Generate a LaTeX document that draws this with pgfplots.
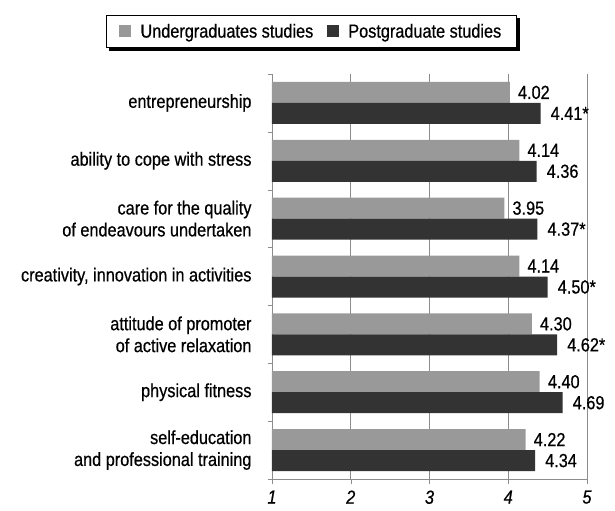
\documentclass[border=0pt]{standalone}
\usepackage{fontspec}
\setmainfont[FakeStretch=0.86, FakeBold=0.6]{Liberation Sans}
\usepackage{pgfplots}
\pgfplotsset{compat=1.18}
\usetikzlibrary{backgrounds}

\definecolor{undergrad}{HTML}{999999}
\definecolor{postgrad}{HTML}{333333}
\definecolor{gridgray}{HTML}{8C8C8C}

\begin{document}
\begin{tikzpicture}
\begin{axis}[
    scale only axis,
    width=315bp,
    height=405bp,
    xbar,
    bar width=21bp,
    xmin=1, xmax=5,
    ymin=-0.5, ymax=6.5,
    xtick={1,2,3,4,5},
    xticklabel style={font=\fontsize{19}{21}\selectfont\itshape, yshift=-3bp},
    /pgf/number format/assume math mode=true,
    ytick={0,1,2,3,4,5,6},
    yticklabels={
        {self-education\\and professional training},
        {physical fitness},
        {attitude of promoter\\of active relaxation},
        {creativity, innovation in activities},
        {care for the quality\\of endeavours undertaken},
        {ability to cope with stress},
        {entrepreneurship}},
    yticklabel style={align=right, font=\fontsize{19}{22}\selectfont, xshift=-12bp},
    minor ytick={-0.5,0.5,...,6.5},
    major tick length=5bp,
    minor tick length=4bp,
    major x tick style={draw=gridgray},
    major y tick style={draw=none},
    minor y tick style={draw=gridgray},
    tick align=outside,
    axis x line*=bottom,
    axis y line*=left,
    axis line style={-, draw=gridgray, line width=0.8bp},
    xmajorgrids=true,
    grid style={draw=gridgray, line width=0.8bp},
    point meta=explicit symbolic,
    nodes near coords,
    every node near coord/.append style={font=\fontsize{19}{21}\selectfont, anchor=west, inner sep=0pt},
    legend columns=2,
    legend style={name=leg, at={(0.125,1.105)}, anchor=center, draw=black, line width=0.8bp,
        fill=white, font=\fontsize{19}{21}\selectfont,
        inner xsep=13bp, inner ysep=6.5bp,
        /tikz/every odd column/.append style={column sep=7bp},
        /tikz/every even column/.append style={column sep=12bp}},
    legend image code/.code={\fill[#1] (0bp,-6bp) rectangle (12bp,6bp);},
]
\addplot[fill=undergrad, draw=none, bar shift=10.5bp,
    every node near coord/.append style={xshift=8bp}]
    coordinates {
    (4.02,6) [4.02]
    (4.14,5) [4.14]
    (3.95,4) [3.95]
    (4.14,3) [4.14]
    (4.30,2) [4.30]
    (4.40,1) [4.40]
    (4.22,0) [4.22]
    };
\addlegendentry{Undergraduates studies}
\addplot[fill=postgrad, draw=none, bar shift=-10.5bp,
    every node near coord/.append style={xshift=10bp}]
    coordinates {
    (4.41,6) [4.41*]
    (4.36,5) [4.36]
    (4.37,4) [4.37*]
    (4.50,3) [4.50*]
    (4.62,2) [4.62*]
    (4.69,1) [4.69]
    (4.34,0) [4.34]
    };
\addlegendentry{Postgraduate studies}
\end{axis}
\begin{scope}[on background layer]
\fill[black] ([shift={(3bp,-3bp)}]leg.south west) rectangle ([shift={(3bp,-3bp)}]leg.north east);
\end{scope}
\path (current axis.south west) ++(-272bp,-32bp) rectangle ++(615bp,511bp);
\end{tikzpicture}
\end{document}
